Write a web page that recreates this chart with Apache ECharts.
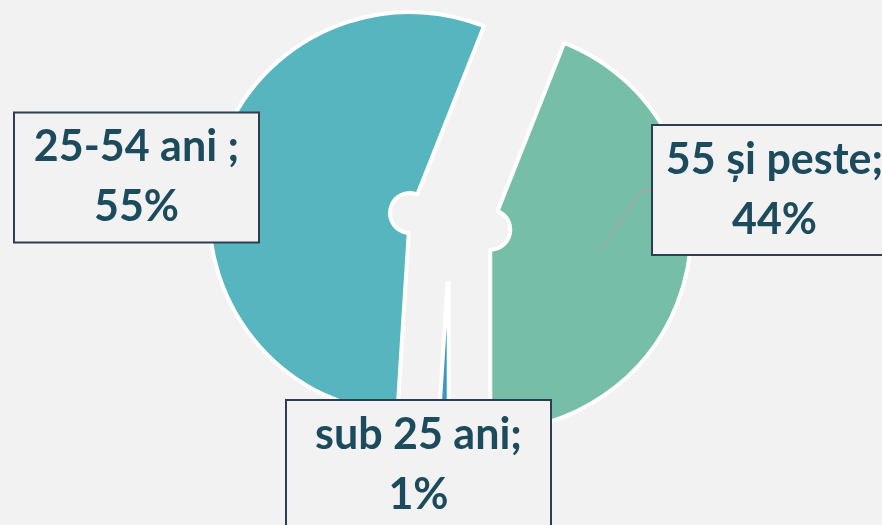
<!DOCTYPE html>
<html>
<head>
<meta charset="utf-8">
<script src="https://cdn.jsdelivr.net/npm/echarts@6/dist/echarts.min.js"></script>
<style>
  html, body { margin: 0; padding: 0; background: #f2f2f2; }
  #chart { width: 882px; height: 525px; }
</style>
</head>
<body>
<div id="chart"></div>
<script>
// Age groups, clockwise from the slice right of 12 o'clock
const categories = ['55 și peste;', 'sub 25 ani;', '25-54 ani ;'];
const shares = [44, 1, 55];

// Presentation settings per slice
const sliceColors = ['#76bea8', '#3b97c4', '#57b5c0'];
const labelCenters = [[774.5, 190], [418.5, 465], [136.5, 177.5]];
const labelWidths = [207, 227, 207];

// Pie geometry
const pieCenter = [450, 222];
const outerRadius = 201;
const innerRadius = 20;
const explode = 41;
const startAngle = 68.4;   // degrees, counter-clockwise from 3 o'clock

const chart = echarts.init(document.getElementById('chart'), null, { renderer: 'canvas' });

const pieData = categories.map((name, i) => ({
  name: name,
  value: shares[i],
  selected: true,
  itemStyle: { color: sliceColors[i] }
}));

// Mid-angle direction of a slice (screen coords, y down)
function sliceDirection(index) {
  const total = shares.reduce((a, b) => a + b, 0);
  let before = 0;
  for (let k = 0; k < index; k++) before += shares[k];
  const midDeg = startAngle - (before + shares[index] / 2) / total * 360;
  const rad = midDeg * Math.PI / 180;
  return [Math.cos(rad), -Math.sin(rad)];
}

// Boxed labels, one per slice
const labelBoxes = categories.map((name, i) => ({
  type: 'text',
  z: 100,
  x: labelCenters[i][0],
  y: labelCenters[i][1],
  style: {
    text: name + '\n' + shares[i] + '%',
    fontFamily: 'Lato',
    fontWeight: 'bold',
    fontSize: 43,
    lineHeight: 60,
    fill: '#1d4b5e',
    align: 'center',
    verticalAlign: 'middle',
    width: labelWidths[i],
    overflow: 'none',
    backgroundColor: '#f2f2f2',
    borderColor: '#2d3e50',
    borderWidth: 2,
    padding: [4, 18]
  }
}));

// Leader line from inside the 55+ slice to its label box
const dir0 = sliceDirection(0);
const leaderStart = [
  pieCenter[0] + dir0[0] * (explode + 112),
  pieCenter[1] + dir0[1] * (explode + 112)
];
const box0Left = labelCenters[0][0] - (labelWidths[0] + 36) / 2;
const leader = {
  type: 'polyline',
  z: 90,
  shape: {
    points: [leaderStart, [box0Left - 11, labelCenters[0][1]], [box0Left, labelCenters[0][1]]]
  },
  style: { stroke: '#a6a6a6', lineWidth: 1.5, fill: null }
};

chart.setOption({
  backgroundColor: '#f2f2f2',
  animation: false,
  series: [{
    type: 'pie',
    center: pieCenter,
    radius: [innerRadius, outerRadius],
    startAngle: startAngle,
    clockwise: true,
    selectedMode: 'multiple',
    selectedOffset: explode,
    itemStyle: { borderColor: '#ffffff', borderWidth: 4 },
    emphasis: { disabled: true },
    label: { show: false },
    labelLine: { show: false },
    data: pieData
  }],
  graphic: [leader].concat(labelBoxes)
});
</script>
</body>
</html>
